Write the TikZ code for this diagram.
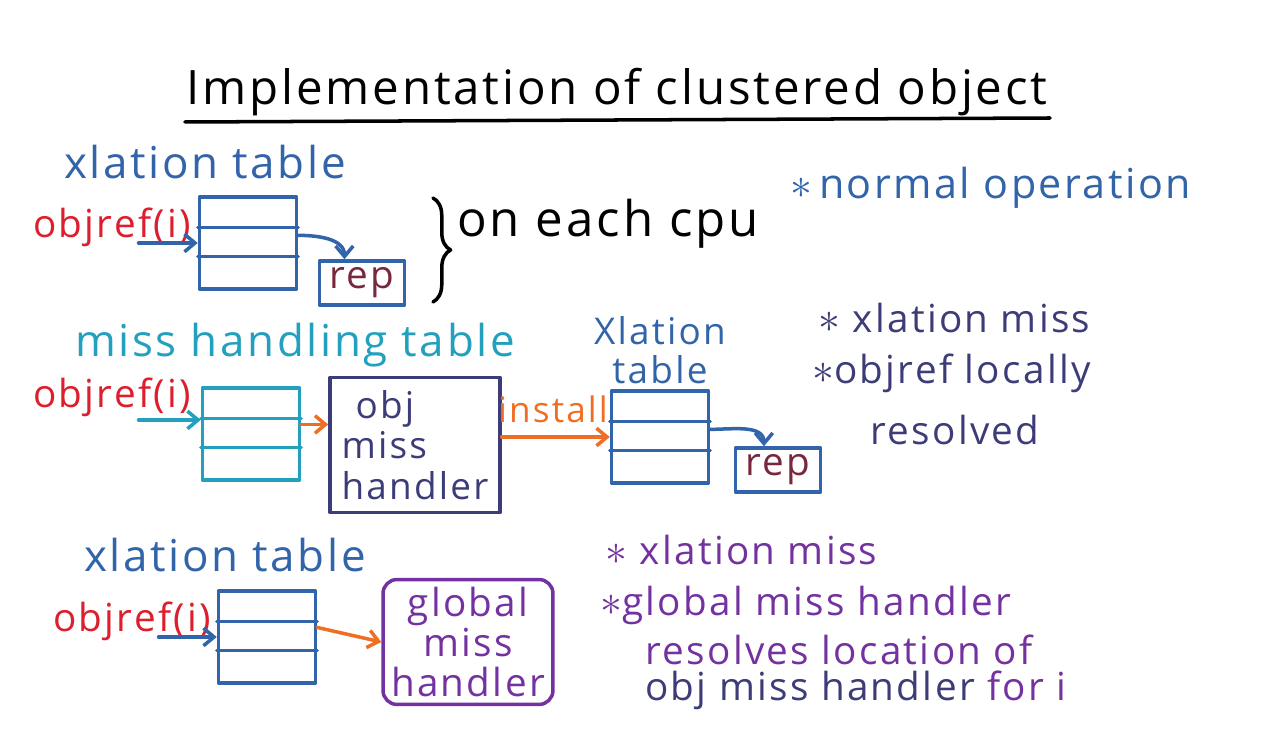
\documentclass[tikz,border=0pt]{standalone}
\usepackage{fontspec}
\setmainfont{Open Sans}[LetterSpace=6]
\usetikzlibrary{arrows.meta, calc, positioning, decorations.pathreplacing}

\definecolor{xlblue}{RGB}{50,100,170}
\definecolor{objred}{RGB}{220,30,45}
\definecolor{misscyan}{RGB}{35,160,190}
\definecolor{navyink}{RGB}{60,60,120}
\definecolor{orangeink}{RGB}{240,110,35}
\definecolor{repred}{RGB}{120,40,60}
\definecolor{purpink}{RGB}{115,50,160}

\newcommand{\inkstar}{{\fontsize{30}{30}\selectfont$\ast$}}

\tikzset{
    ink/.style={line width=2pt, line cap=round, line join=round},
    hand/.style={inner sep=0pt, font=\fontsize{25}{27}\selectfont},
    big/.style={inner sep=0pt, font=\fontsize{27}{32}\selectfont},
    small/.style={inner sep=0pt, font=\fontsize{22}{24}\selectfont},
    note/.style={inner sep=0pt, anchor=west, font=\fontsize{22}{24}\selectfont},
    tbl/.style={ink, draw, minimum width=1.94cm, minimum height=1.84cm, inner sep=0pt},
    repbox/.style={ink, draw=xlblue, minimum width=1.7cm, minimum height=0.88cm, inner sep=0pt,
        text=repred, font=\fontsize{22}{24}\selectfont},
    handbox/.style={ink, draw, minimum width=3.4cm, inner sep=0pt, font=\fontsize{22}{23}\selectfont},
    >={Straight Barb[length=6pt, width=10pt]}
}

\begin{document}
\begin{tikzpicture}[x=0.02cm, y=-0.02cm]
    \useasboundingbox (0,0) rectangle (1279,749);

    \node[big] (title) at (617,92) {Implementation of clustered object};
    \draw[ink] (185,122) -- (1050,118);

    % normal operation
    \node[hand, text=xlblue] (xlA) at (205,162) {xlation table};
    \node[small, text=objred] (objA) at (112,227) {objref(i)};
    \node[tbl, draw=xlblue] (tabA) at (248,243) {};
    \node[repbox] (repA) at (362,283) {rep};
    \draw[ink, decorate, decoration={brace, amplitude=10pt}] (433,198) -- (433,302);
    \node[big, font=\fontsize{28}{32}\selectfont] (cpu) at (608,224) {on each cpu};
    \node[hand, text=xlblue, anchor=west, font=\fontsize{23.5}{27}\selectfont] (normal) at (790,188) {\inkstar\,normal operation};

    % local miss
    \node[hand, text=misscyan] (mhTitle) at (295,345) {miss handling table};
    \node[small, text=objred] (objB) at (112,397) {objref(i)};
    \node[tbl, draw=misscyan] (tabB) at (251,434) {};
    \node[handbox, draw=navyink, minimum height=2.7cm, text=navyink, align=left, font=\fontsize{21}{23}\selectfont] (objMH) at (415,445) {\hspace*{8pt}obj\\miss\\handler};
    \node[hand, text=orangeink, font=\fontsize{20}{24}\selectfont] (install) at (553,409) {install};
    \node[hand, text=xlblue, align=center, font=\fontsize{21}{22}\selectfont] (xlB) at (660,350) {Xlation\\table};
    \node[tbl, draw=xlblue] (tabC) at (660,437) {};
    \node[repbox] (repB) at (778,470) {rep};
    \node[note, text=navyink] (nB1) at (818,318) {\inkstar\ xlation miss};
    \node[note, text=navyink] (nB2) at (812,373) {\inkstar objref locally};
    \node[note, text=navyink] (nB3) at (870,430) {resolved};

    % global miss
    \node[hand, text=xlblue] (xlC) at (225,555) {xlation table};
    \node[small, text=objred] (objC) at (132,621) {objref(i)};
    \node[tbl, draw=xlblue] (tabD) at (267,637) {};
    \node[handbox, draw=purpink, rounded corners=8pt, minimum height=2.5cm, text=purpink, align=center] (globMH) at (468,642) {global\\miss\\handler};
    \node[note, text=purpink] (nC1) at (605,550) {\inkstar\ xlation miss};
    \node[note, text=purpink] (nC2) at (600,605) {\inkstar global miss handler};
    \node[note, text=purpink] (nC3) at (645,650) {resolves location of};
    \node[note, text=purpink] (nC4) at (645,690) {\textcolor{navyink}{obj miss handler} for i};

    % table rows
    \foreach \t/\c in {tabA/xlblue, tabB/misscyan, tabC/xlblue, tabD/xlblue}
        \foreach \f in {0.34,0.64}
            \draw[ink, \c] ($(\t.north west)!\f!(\t.south west)$) -- ($(\t.north east)!\f!(\t.south east)$);

    % arrows
    \coordinate (aIn) at (objA.east |- tabA.west);
    \coordinate (bIn) at (objB.east |- tabB.west);
    \coordinate (cIn) at (objC.east |- tabD.west);
    \draw[ink, xlblue, ->] ([xshift=-30pt]aIn) -- (tabA.west);
    \draw[ink, misscyan, ->] ([xshift=-30pt, yshift=8pt]bIn) -- ([yshift=8pt]tabB.west);
    \draw[ink, xlblue, ->] ([xshift=-30pt]cIn) -- (tabD.west);
    \draw[ink, xlblue, ->] ($(tabA.north east)!0.42!(tabA.south east)$) to[out=0, in=90] ([xshift=-10pt]repA.north);
    \draw[ink, xlblue, ->] ($(tabC.north east)!0.42!(tabC.south east)$) to[out=0, in=90] ([xshift=-8pt]repB.north);
    \coordinate (bOut) at ($(tabB.north east)!0.4!(tabB.south east)$);
    \draw[ink, orangeink, ->] (bOut) -- (bOut -| objMH.west);
    \draw[ink, orangeink, ->] (objMH.east |- tabC.west) -- (tabC.west);
    \draw[ink, orangeink, ->] ($(tabD.north east)!0.4!(tabD.south east)$) -- (globMH.west);
\end{tikzpicture}
\end{document}
